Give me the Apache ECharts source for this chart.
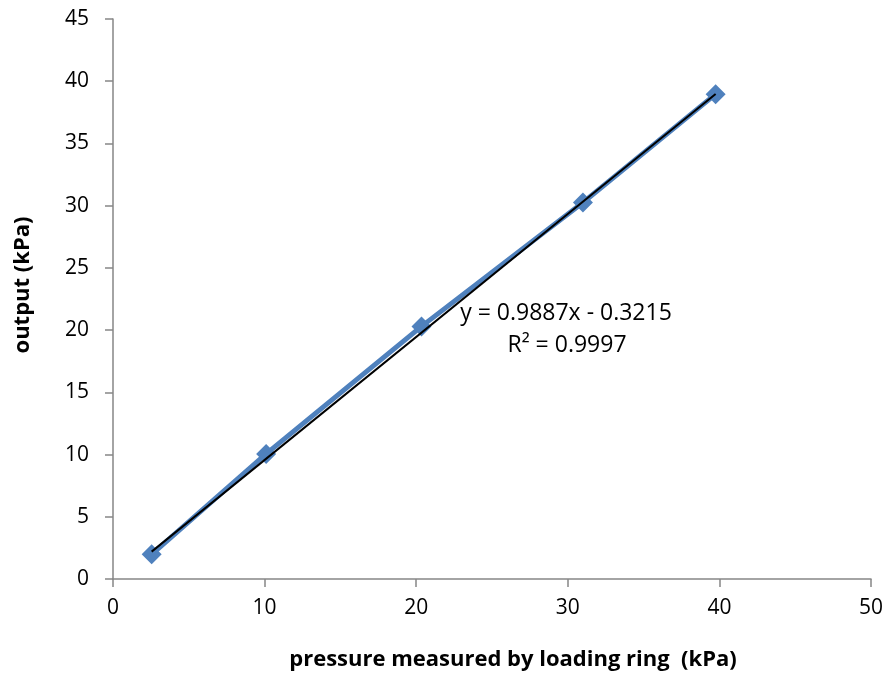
<!DOCTYPE html>
<html>
<head>
<meta charset="utf-8">
<script src="https://cdn.jsdelivr.net/npm/echarts@6/dist/echarts.min.js"></script>
<style>
  html, body { margin: 0; padding: 0; background: #fff; }
  #chart { width: 891px; height: 676px; }
</style>
</head>
<body>
<div id="chart"></div>
<script>
// Loading ring pressure vs. sensor output
const pressure = [2.55, 10.1, 20.35, 31.0, 39.75];
const output = [1.98, 10.05, 20.3, 30.25, 38.96];

// Linear fit reported for the data
const slope = 0.9887;
const intercept = -0.3215;
const rSquared = 0.9997;

const xTicks = { min: 0, max: 50, interval: 10 };
const yTicks = { min: 0, max: 45, interval: 5 };

const xTitle = 'pressure measured by loading ring  (kPa)';
const yTitle = 'output (kPa)';

const measured = pressure.map((x, i) => [x, output[i]]);
const xMin = Math.min(...pressure);
const xMax = Math.max(...pressure);
const fitLine = [xMin, xMax].map(x => [x, slope * x + intercept]);

const FONT = '"Open Sans", "Noto Sans", sans-serif';
const axisGray = '#868686';

const chart = echarts.init(document.getElementById('chart'), null, { renderer: 'canvas' });

chart.setOption({
  animation: false,
  backgroundColor: '#ffffff',
  grid: { left: 113, right: 20, top: 19, bottom: 97, containLabel: false },
  xAxis: {
    type: 'value',
    min: xTicks.min, max: xTicks.max, interval: xTicks.interval,
    axisLine: { show: true, lineStyle: { color: axisGray, width: 1.5 } },
    axisTick: { show: true, inside: false, length: 8, lineStyle: { color: axisGray, width: 1.5 } },
    axisLabel: { fontFamily: FONT, fontSize: 21, color: '#000', margin: 19 },
    splitLine: { show: false }
  },
  yAxis: {
    type: 'value',
    min: yTicks.min, max: yTicks.max, interval: yTicks.interval,
    axisLine: { show: true, lineStyle: { color: axisGray, width: 1.5 } },
    axisTick: { show: true, inside: false, length: 8, lineStyle: { color: axisGray, width: 1.5 } },
    axisLabel: { fontFamily: FONT, fontSize: 21, color: '#000', margin: 24 },
    splitLine: { show: false }
  },
  series: [
    {
      name: 'output',
      type: 'line',
      data: measured,
      symbol: 'diamond',
      symbolSize: 20,
      showAllSymbol: true,
      lineStyle: { color: '#4F81BD', width: 5 },
      itemStyle: { color: '#4F81BD' },
      z: 2
    },
    {
      name: 'fit',
      type: 'line',
      data: fitLine,
      symbol: 'none',
      lineStyle: { color: '#000000', width: 2 },
      z: 3
    }
  ],
  graphic: [
    {
      type: 'text',
      x: 566,
      y: 313,
      style: {
        text: 'y = ' + slope.toFixed(4) + 'x - ' + Math.abs(intercept).toFixed(4),
        fontFamily: FONT, fontSize: 23, fill: '#000',
        align: 'center', verticalAlign: 'middle'
      },
      z: 10
    },
    {
      type: 'text',
      x: 567,
      y: 345,
      style: {
        text: 'R² = ' + rSquared.toFixed(4),
        fontFamily: FONT, fontSize: 23, fill: '#000',
        align: 'center', verticalAlign: 'middle'
      },
      z: 10
    },
    {
      type: 'text',
      x: 513,
      y: 660,
      style: {
        text: xTitle,
        fontFamily: FONT, fontSize: 22, fontWeight: 'bold', fill: '#000',
        align: 'center', verticalAlign: 'middle'
      }
    },
    {
      type: 'text',
      x: 23,
      y: 285,
      rotation: Math.PI / 2,
      style: {
        text: yTitle,
        fontFamily: FONT, fontSize: 22, fontWeight: 'bold', fill: '#000',
        align: 'center', verticalAlign: 'middle'
      }
    }
  ]
});
</script>
</body>
</html>
